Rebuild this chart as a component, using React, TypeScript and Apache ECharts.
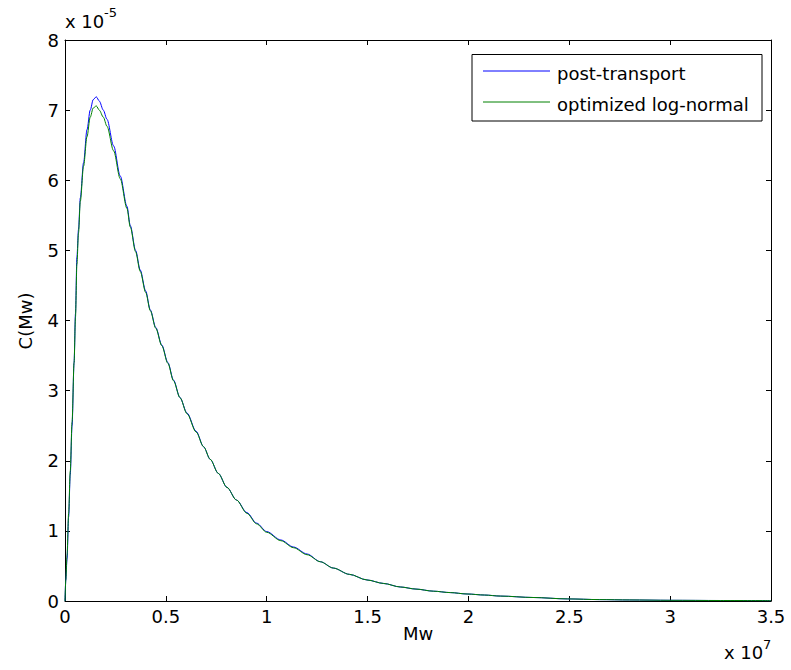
import React, { useEffect, useRef } from "react";
import * as echarts from "echarts";

// x in units of 1e7, y in units of 1e-5
const seriesNames = ["post-transport", "optimized log-normal"];

const postTransport: [number, number][] = [
  [0, 0], [0.004, 0.3], [0.01, 0.6], [0.018, 1.2], [0.026, 1.8], [0.035, 2.5],
  [0.045, 3.4], [0.052, 4.1], [0.059, 4.9], [0.067, 5.3], [0.076, 5.75],
  [0.092, 6.25], [0.109, 6.72], [0.125, 7.0], [0.14, 7.15], [0.155, 7.19],
  [0.17, 7.13], [0.19, 7.0], [0.208, 6.87], [0.241, 6.49], [0.274, 6.06],
  [0.307, 5.63], [0.324, 5.35], [0.35, 5.0], [0.373, 4.72], [0.4, 4.42],
  [0.423, 4.15], [0.45, 3.9], [0.48, 3.65], [0.51, 3.4], [0.538, 3.15],
  [0.57, 2.9], [0.605, 2.68], [0.65, 2.42], [0.687, 2.2], [0.72, 2.02],
  [0.76, 1.82], [0.803, 1.62], [0.85, 1.44], [0.902, 1.26], [0.95, 1.11],
  [1.0, 0.99], [1.07, 0.87], [1.133, 0.77], [1.2, 0.67], [1.266, 0.56],
  [1.33, 0.47], [1.41, 0.38], [1.497, 0.3], [1.58, 0.25], [1.662, 0.2],
  [1.74, 0.17], [1.826, 0.14], [1.91, 0.12], [1.993, 0.1], [2.08, 0.085],
  [2.16, 0.07], [2.32, 0.05], [2.49, 0.03], [2.65, 0.02], [2.8, 0.015],
  [3.0, 0.01], [3.25, 0.007], [3.5, 0.005],
];

const logNormal: [number, number][] = [
  [0, 0], [0.004, 0.3], [0.01, 0.65], [0.018, 1.25], [0.026, 1.85], [0.035, 2.55],
  [0.045, 3.4], [0.052, 4.05], [0.059, 4.8], [0.067, 5.25], [0.076, 5.7],
  [0.092, 6.2], [0.109, 6.62], [0.125, 6.9], [0.14, 7.03], [0.155, 7.06],
  [0.17, 7.0], [0.19, 6.9], [0.208, 6.77], [0.241, 6.42], [0.274, 6.02],
  [0.307, 5.6], [0.324, 5.33], [0.35, 4.98], [0.373, 4.7], [0.4, 4.4],
  [0.423, 4.14], [0.45, 3.89], [0.48, 3.64], [0.51, 3.39], [0.538, 3.14],
  [0.57, 2.9], [0.605, 2.67], [0.65, 2.41], [0.687, 2.2], [0.72, 2.02],
  [0.76, 1.82], [0.803, 1.62], [0.85, 1.44], [0.902, 1.25], [0.95, 1.1],
  [1.0, 0.98], [1.07, 0.86], [1.133, 0.76], [1.2, 0.66], [1.266, 0.56],
  [1.33, 0.47], [1.41, 0.38], [1.497, 0.3], [1.58, 0.25], [1.662, 0.2],
  [1.74, 0.17], [1.826, 0.14], [1.91, 0.12], [1.993, 0.1], [2.08, 0.085],
  [2.16, 0.07], [2.32, 0.05], [2.49, 0.03], [2.65, 0.02], [2.8, 0.015],
  [3.0, 0.01], [3.25, 0.007], [3.5, 0.005],
];

const FONT = "DejaVu Sans";

export default function App() {
  const ref = useRef<HTMLDivElement>(null);
  useEffect(() => {
    if (!ref.current) return;
    const chart = echarts.init(ref.current, undefined, { renderer: "svg" });
    const axisLine = { show: true, onZero: false, lineStyle: { color: "#000", width: 1 } };
    const tick = { show: true, inside: true, length: 5, lineStyle: { color: "#000" } };
    const label = { color: "#000", fontFamily: FONT, fontSize: 18 };
    chart.setOption({
      animation: false,
      backgroundColor: "#fff",
      grid: { left: 65, right: 20, top: 40, bottom: 69, containLabel: false },
      xAxis: [
        {
          type: "value", min: 0, max: 3.5, interval: 0.5, position: "bottom",
          axisLine, axisTick: tick, splitLine: { show: false },
          axisLabel: { ...label, margin: 6, formatter: (v: number) => String(v), showMinLabel: true, showMaxLabel: true },
        },
        {
          type: "value", min: 0, max: 3.5, interval: 0.5, position: "top",
          axisLine, axisTick: tick, splitLine: { show: false }, axisLabel: { show: false },
        },
      ],
      yAxis: [
        {
          type: "value", min: 0, max: 8, interval: 1, position: "left",
          axisLine, axisTick: tick, splitLine: { show: false },
          axisLabel: { ...label, margin: 6 },
        },
        {
          type: "value", min: 0, max: 8, interval: 1, position: "right",
          axisLine, axisTick: tick, splitLine: { show: false }, axisLabel: { show: false },
        },
      ],
      series: [
        {
          name: seriesNames[0], type: "line", data: postTransport, showSymbol: false,
          smooth: 0.3, smoothMonotone: "x",
          lineStyle: { color: "#0000ff", width: 1 }, itemStyle: { color: "#0000ff" },
        },
        {
          name: seriesNames[1], type: "line", data: logNormal, showSymbol: false,
          smooth: 0.3, smoothMonotone: "x",
          lineStyle: { color: "#008000", width: 1 }, itemStyle: { color: "#008000" },
        },
      ],
      graphic: [
        // exponent labels
        { type: "text", left: 65, top: 12, style: { text: "x 10", fontFamily: FONT, fontSize: 18, fill: "#000" } },
        { type: "text", left: 104, top: 6, style: { text: "-5", fontFamily: FONT, fontSize: 13, fill: "#000" } },
        { type: "text", left: 724, top: 643, style: { text: "x 10", fontFamily: FONT, fontSize: 18, fill: "#000" } },
        { type: "text", left: 763, top: 638, style: { text: "7", fontFamily: FONT, fontSize: 13, fill: "#000" } },
        // axis names
        { type: "text", x: 418, y: 633, style: { text: "Mw", fontFamily: FONT, fontSize: 18, fill: "#000", align: "center", verticalAlign: "middle" } },
        { type: "text", x: 25, y: 321, rotation: Math.PI / 2, style: { text: "C(Mw)", fontFamily: FONT, fontSize: 18, fill: "#000", align: "center", verticalAlign: "middle" } },
        // legend
        { type: "rect", shape: { x: 472, y: 54.5, width: 290, height: 66.5 }, style: { fill: "#fff", stroke: "#000", lineWidth: 1 }, z: 10 },
        { type: "line", shape: { x1: 483, y1: 71, x2: 550, y2: 71 }, style: { stroke: "#0000ff", lineWidth: 1 }, z: 11 },
        { type: "line", shape: { x1: 483, y1: 102, x2: 550, y2: 102 }, style: { stroke: "#008000", lineWidth: 1 }, z: 11 },
        { type: "text", x: 557, y: 73, style: { text: seriesNames[0], fontFamily: FONT, fontSize: 18, fill: "#000", verticalAlign: "middle" }, z: 11 },
        { type: "text", x: 557, y: 104, style: { text: seriesNames[1], fontFamily: FONT, fontSize: 18, fill: "#000", verticalAlign: "middle" }, z: 11 },
      ],
    });
    return () => chart.dispose();
  }, []);
  return (
    <div
      ref={ref}
      style={{ position: "fixed", left: 0, top: 0, width: 791, height: 670, background: "#fff" }}
    />
  );
}
